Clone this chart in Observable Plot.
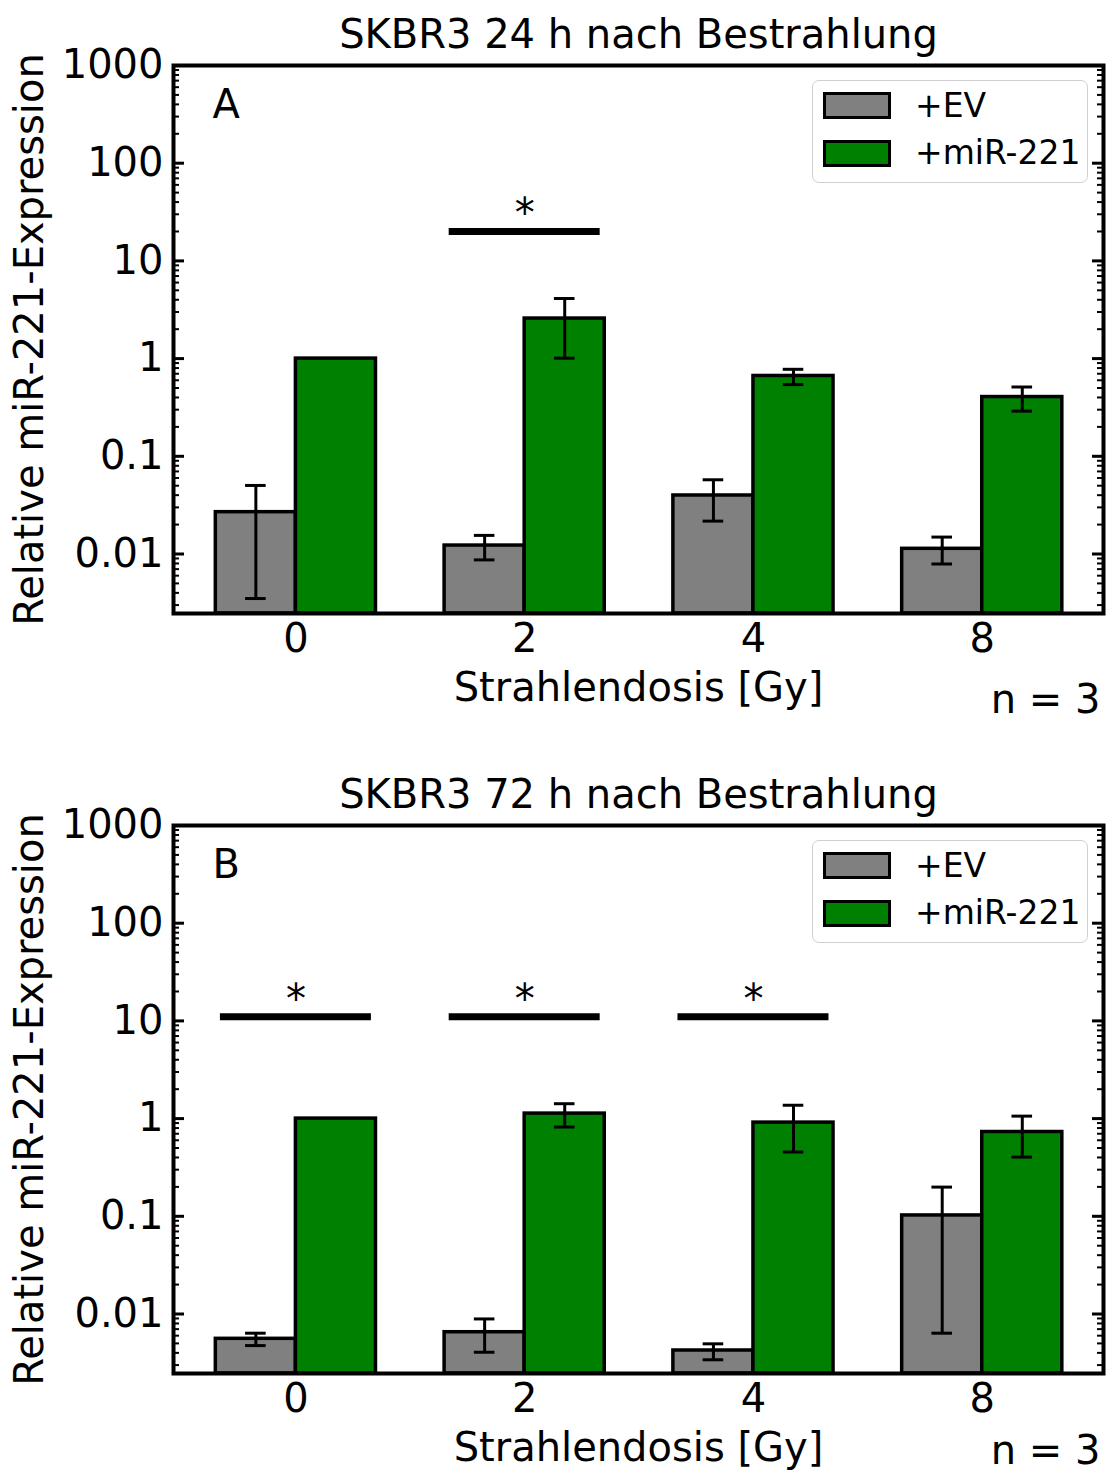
<!DOCTYPE html>
<html><head><meta charset="utf-8">
<script src="https://cdn.jsdelivr.net/npm/d3@7"></script>
<script src="https://cdn.jsdelivr.net/npm/@observablehq/plot@0.6"></script>
<style>
body{margin:0;background:#fff;font-family:"DejaVu Sans",sans-serif;}
#root{position:relative;width:1106px;height:1473px;overflow:hidden;}
.panel{position:relative;width:1106px;}
.panel svg{display:block;}
.legend{position:absolute;left:812px;width:276px;height:103px;border:1.5px solid #d0d0d0;border-radius:7px;background:rgba(255,255,255,0.8);box-sizing:border-box;}
.sw{position:absolute;left:10px;width:68px;height:27px;border:3.5px solid #000;box-sizing:border-box;}
.lt{position:absolute;left:102px;font-size:33px;line-height:34px;color:#000;font-family:"DejaVu Sans",sans-serif;}
</style></head><body><div id="root"></div>
<script>
// ---- data ----
const doses = ["0", "2", "4", "8"];
const seriesNames = ["+EV", "+miR-221"];
const seriesColors = ["#808080", "#008000"];
const yTickValues = [0.01, 0.1, 1, 10, 100, 1000];

// Panel A: 24 h
const titleA = "SKBR3 24 h nach Bestrahlung";
const evA     = [0.0268, 0.0122, 0.0397, 0.0113];
const evA_lo  = [0.0035, 0.0087, 0.0217, 0.0079];
const evA_hi  = [0.0503, 0.0155, 0.0575, 0.0149];
const mirA    = [1.0, 2.57, 0.664, 0.404];
const mirA_lo = [1.0, 1.01, 0.542, 0.290];
const mirA_hi = [1.0, 4.12, 0.777, 0.512];
const sigA    = [1];          // group indices with significance bar
const sigA_y  = 20;

// Panel B: 72 h
const titleB = "SKBR3 72 h nach Bestrahlung";
const evB     = [0.00557, 0.00651, 0.00423, 0.102];
const evB_lo  = [0.00475, 0.00406, 0.0034, 0.00636];
const evB_hi  = [0.00636, 0.0089, 0.00495, 0.199];
const mirB    = [1.0, 1.125, 0.91, 0.729];
const mirB_lo = [1.0, 0.82, 0.455, 0.404];
const mirB_hi = [1.0, 1.42, 1.37, 1.06];
const sigB    = [0, 1, 2];
const sigB_y  = 11;

const yLabel = "Relative miR-221-Expression";
const xLabel = "Strahlendosis [Gy]";
const nText = "n = 3";

// ---- chart ----
const FONT = "DejaVu Sans";
const FS = 40;
const W = 1106, ML = 173, MR = 3;
const xDomain = [-0.535, 3.53];
const yDomain = [0.00246, 1000];
const barW = 0.35;

function makePanel(opts) {
  const {title, letter, ev, evLo, evHi, mir, mirLo, mirHi, sig, sigY, height, mt, mb, nDy, legendTop} = opts;
  const rows = [];
  doses.forEach((d, i) => {
    rows.push({i, s: 0, x1: i - barW, x2: i, xc: i - barW / 2, v: ev[i], lo: evLo[i], hi: evHi[i]});
    rows.push({i, s: 1, x1: i, x2: i + barW, xc: i + barW / 2, v: mir[i], lo: mirLo[i], hi: mirHi[i]});
  });
  const errRows = rows.filter(r => r.hi > r.lo);
  const caps = errRows.flatMap(r => [{xc: r.xc, y: r.lo}, {xc: r.xc, y: r.hi}]);
  const capHalf = 0.045;
  const minor = [];
  for (let e = -3; e <= 3; e++) for (let k = 2; k <= 9; k++) {
    const v = k * Math.pow(10, e);
    if (v > yDomain[0] && v < yDomain[1]) minor.push(v);
  }
  const plotW = W - ML - MR;
  const sigRows = sig.map(i => ({i, y: sigY}));
  const svg = Plot.plot({
    width: W, height, marginLeft: ML, marginRight: MR, marginTop: mt, marginBottom: mb,
    style: {fontFamily: FONT, fontSize: FS + "px", color: "#000", background: "#fff", overflow: "visible"},
    x: {type: "linear", domain: xDomain},
    y: {type: "log", domain: yDomain},
    marks: [
      Plot.rect(rows, {x1: "x1", x2: "x2", y1: yDomain[0], y2: "v", fill: r => seriesColors[r.s], stroke: "#000", strokeWidth: 3.5}),
      Plot.ruleX(errRows, {x: "xc", y1: "lo", y2: "hi", stroke: "#000", strokeWidth: 3}),
      Plot.ruleY(caps, {y: "y", x1: r => r.xc - capHalf, x2: r => r.xc + capHalf, stroke: "#000", strokeWidth: 3}),
      Plot.ruleY(sigRows, {y: "y", x1: r => r.i - 0.33, x2: r => r.i + 0.33, stroke: "#000", strokeWidth: 7}),
      Plot.text(sigRows, {x: "i", y: "y", text: () => "*", fontSize: FS, dy: -17}),
      // ticks (inward) left and right
      Plot.tickY(yTickValues, {y: d => d, insetRight: plotW - 11, stroke: "#000", strokeWidth: 3}),
      Plot.tickY(yTickValues, {y: d => d, insetLeft: plotW - 11, stroke: "#000", strokeWidth: 3}),
      Plot.tickY(minor, {y: d => d, insetRight: plotW - 6, stroke: "#000", strokeWidth: 2}),
      Plot.tickY(minor, {y: d => d, insetLeft: plotW - 6, stroke: "#000", strokeWidth: 2}),
      Plot.axisY(yTickValues, {tickSize: 0, tickPadding: 10, tickFormat: d => String(d), fontSize: FS, label: null}),
      Plot.axisX([0, 1, 2, 3], {tickSize: 0, tickPadding: 10, tickFormat: i => doses[i], fontSize: FS, label: null}),
      Plot.frame({stroke: "#000", strokeWidth: 4}),
      Plot.text([title], {frameAnchor: "top", lineAnchor: "middle", dy: -30, fontSize: FS}),
      Plot.text([letter], {frameAnchor: "top-left", lineAnchor: "middle", dx: 39, dy: 40, fontSize: FS, textAnchor: "start"}),
      Plot.text([xLabel], {frameAnchor: "bottom", lineAnchor: "middle", dy: 75, fontSize: FS}),
      Plot.text([nText], {frameAnchor: "bottom-right", lineAnchor: "middle", dx: -3, dy: nDy, fontSize: FS, textAnchor: "end"}),
      Plot.text([yLabel], {frameAnchor: "left", lineAnchor: "middle", textAnchor: "middle", dx: -143, rotate: -90, fontSize: FS})
    ]
  });
  const wrap = document.createElement("div");
  wrap.className = "panel";
  wrap.appendChild(svg);
  const lg = document.createElement("div");
  lg.className = "legend";
  lg.style.top = legendTop + "px";
  seriesNames.forEach((name, k) => {
    const sw = document.createElement("div");
    sw.className = "sw";
    sw.style.top = (11 + k * 48) + "px";
    sw.style.background = seriesColors[k];
    lg.appendChild(sw);
    const t = document.createElement("div");
    t.className = "lt";
    t.style.top = (8 + k * 47) + "px";
    t.textContent = name;
    lg.appendChild(t);
  });
  wrap.appendChild(lg);
  return wrap;
}

const root = document.getElementById("root");
root.appendChild(makePanel({title: titleA, letter: "A", ev: evA, evLo: evA_lo, evHi: evA_hi,
  mir: mirA, mirLo: mirA_lo, mirHi: mirA_hi, sig: sigA, sigY: sigA_y,
  height: 760, mt: 65, mb: 147, nDy: 87, legendTop: 80}));
root.appendChild(makePanel({title: titleB, letter: "B", ev: evB, evLo: evB_lo, evHi: evB_hi,
  mir: mirB, mirLo: mirB_lo, mirHi: mirB_hi, sig: sigB, sigY: sigB_y,
  height: 713, mt: 65, mb: 100, nDy: 78, legendTop: 80}));
</script></body></html>
